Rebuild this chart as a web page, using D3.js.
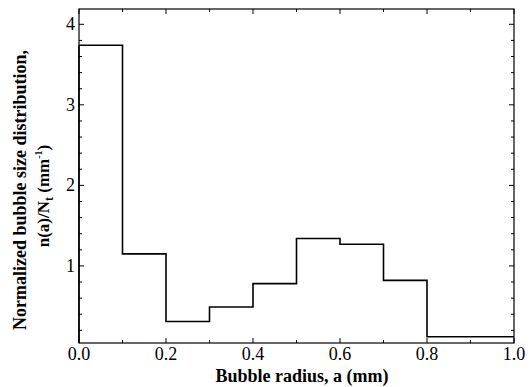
<!DOCTYPE html>
<html>
<head>
<meta charset="utf-8">
<script src="https://cdn.jsdelivr.net/npm/d3@7"></script>
<style>
  body { margin: 0; background: #fff; }
  svg { display: block; }
</style>
</head>
<body>
<div id="chart"></div>
<script>
// bubble radius bins (mm) and normalized size distribution n(a)/Nt (mm^-1)
const binStart = [0.0, 0.1, 0.2, 0.3, 0.4, 0.5, 0.6, 0.7, 0.8];
const binEnd   = [0.1, 0.2, 0.3, 0.4, 0.5, 0.6, 0.7, 0.8, 1.0];
const density  = [3.74, 1.15, 0.31, 0.49, 0.78, 1.34, 1.27, 0.82, 0.12];

const xTicks = [0.0, 0.2, 0.4, 0.6, 0.8, 1.0];
const yTicks = [1, 2, 3, 4];

const W = 531, H = 387;
const margin = {top: 9, right: 17, bottom: 44, left: 79};
const font = "'Liberation Serif', 'Times New Roman', serif";

const svg = d3.select("#chart").append("svg")
  .attr("width", W).attr("height", H);

const x = d3.scaleLinear().domain([0, 1]).range([margin.left, W - margin.right]);
const y = d3.scaleLinear().domain([0.043, 4.19]).range([H - margin.bottom, margin.top]);

// frame
svg.append("rect")
  .attr("x", x(0)).attr("y", y(4.19))
  .attr("width", x(1) - x(0)).attr("height", y(0.043) - y(4.19))
  .attr("fill", "none").attr("stroke", "#000").attr("stroke-width", 1.2);

// ticks, pointing inward on all four sides
const xMinor = d3.range(0, 1.0001, 0.1);
const yMinor = d3.range(0.2, 4.19, 0.2);
const tickG = svg.append("g").attr("stroke", "#000").attr("stroke-width", 1);

function isMajor(v, step) { return Math.abs(v / step - Math.round(v / step)) < 1e-6; }

xMinor.forEach(v => {
  const len = isMajor(v, 0.2) ? 5 : 3;
  tickG.append("line").attr("x1", x(v)).attr("x2", x(v))
    .attr("y1", y.range()[0]).attr("y2", y.range()[0] - len);
  tickG.append("line").attr("x1", x(v)).attr("x2", x(v))
    .attr("y1", y.range()[1]).attr("y2", y.range()[1] + len);
});
yMinor.forEach(v => {
  const len = isMajor(v, 1) ? 5 : 3;
  tickG.append("line").attr("y1", y(v)).attr("y2", y(v))
    .attr("x1", x.range()[0]).attr("x2", x.range()[0] + len);
  tickG.append("line").attr("y1", y(v)).attr("y2", y(v))
    .attr("x1", x.range()[1]).attr("x2", x.range()[1] - len);
});

// tick labels
svg.append("g").selectAll("text").data(xTicks).join("text")
  .attr("x", d => x(d)).attr("y", y.range()[0] + 17)
  .attr("text-anchor", "middle")
  .attr("font-family", font).attr("font-size", "18px")
  .text(d => d.toFixed(1));

svg.append("g").selectAll("text").data(yTicks).join("text")
  .attr("x", x(0) - 4).attr("y", d => y(d) + 6)
  .attr("text-anchor", "end")
  .attr("font-family", font).attr("font-size", "18px")
  .text(d => d);

// step histogram
const pts = binStart.map((s, i) => [s, density[i]]);
pts.push([binEnd[binEnd.length - 1], density[density.length - 1]]);

const line = d3.line()
  .x(d => x(d[0])).y(d => y(d[1]))
  .curve(d3.curveStepAfter);

svg.append("path")
  .datum(pts)
  .attr("d", line)
  .attr("fill", "none").attr("stroke", "#000").attr("stroke-width", 1.6);

svg.append("line")
  .attr("x1", x(0)).attr("x2", x(0))
  .attr("y1", y(density[0])).attr("y2", y.range()[0])
  .attr("stroke", "#000").attr("stroke-width", 1.6);

// axis titles
svg.append("text")
  .attr("x", 302).attr("y", H - 5)
  .attr("text-anchor", "middle")
  .attr("font-family", font).attr("font-size", "18px").attr("font-weight", "bold")
  .text("Bubble radius, a (mm)");

const yl = svg.append("g").attr("font-family", font)
  .attr("font-weight", "bold").attr("text-anchor", "middle");

yl.append("text")
  .attr("transform", "translate(26, 190) rotate(-90)")
  .attr("font-size", "18px")
  .text("Normalized bubble size distribution,");

const t2 = yl.append("text")
  .attr("transform", "translate(49, 196) rotate(-90)")
  .attr("font-size", "17px");
t2.append("tspan").text("n(a)/N");
t2.append("tspan").attr("font-size", "12px").attr("dy", 4).text("t");
t2.append("tspan").attr("dy", -4).text(" (mm");
t2.append("tspan").attr("font-size", "10px").attr("dy", -7).text("-1");
t2.append("tspan").attr("dy", 7).text(")");
</script>
</body>
</html>
